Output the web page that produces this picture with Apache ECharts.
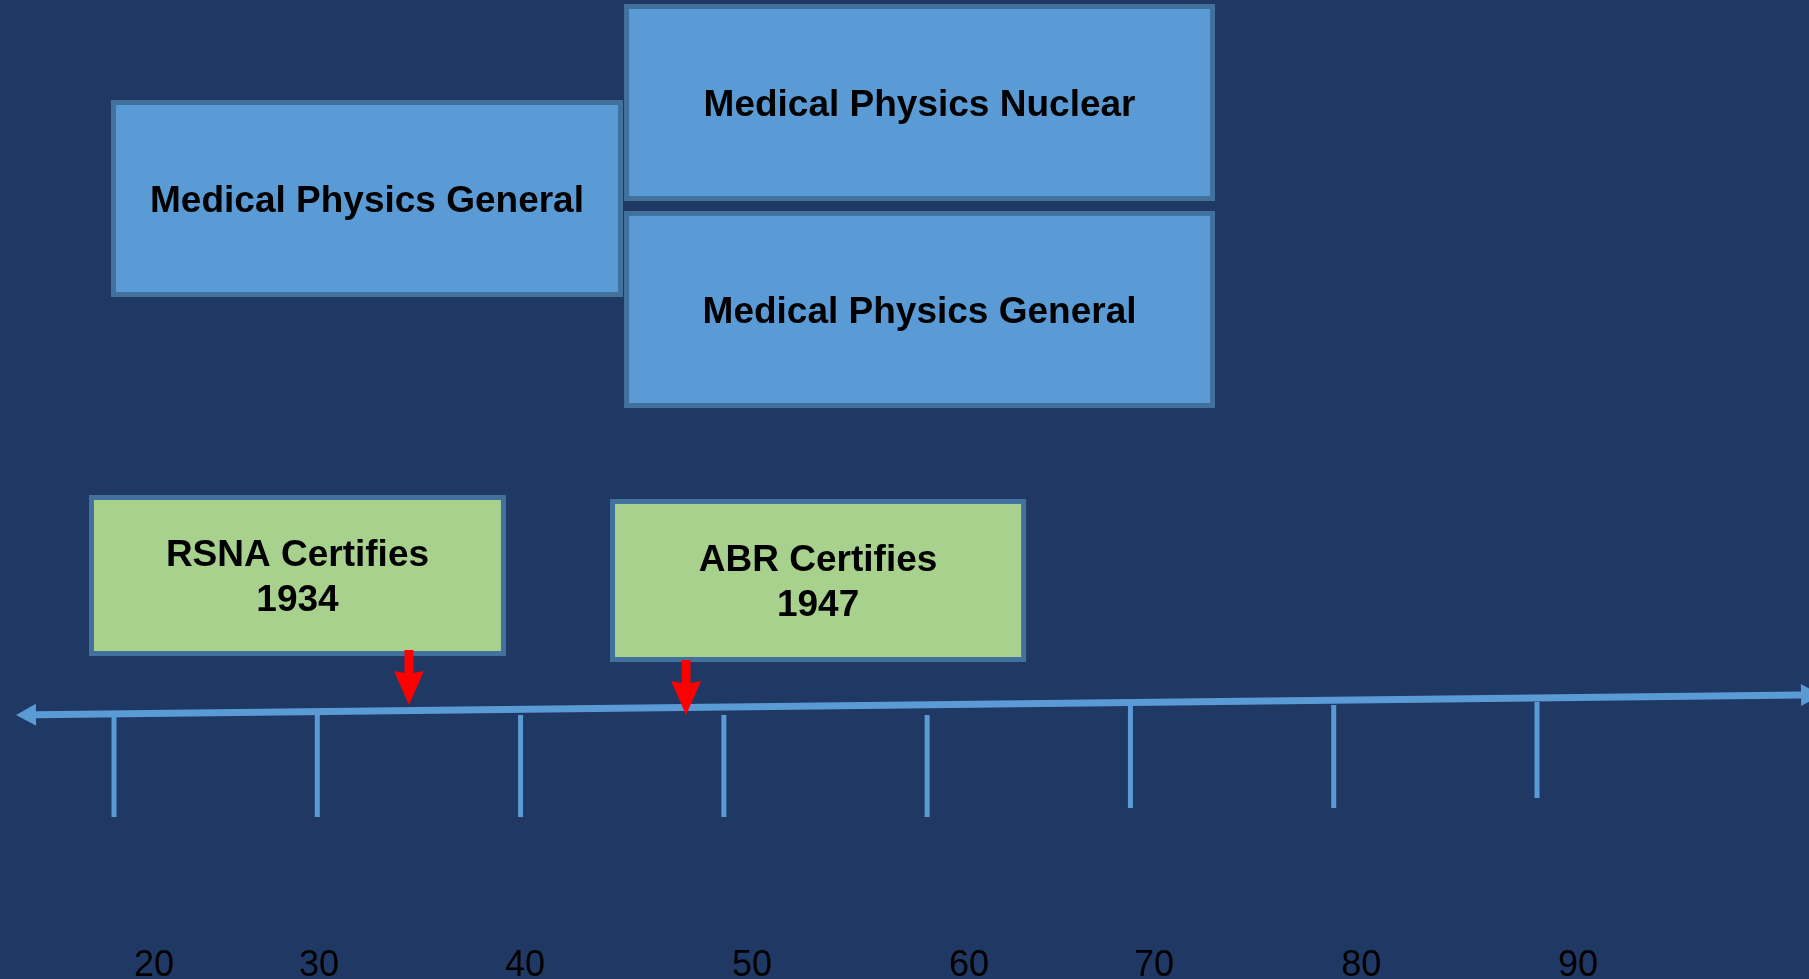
<!DOCTYPE html>
<html><head><meta charset="utf-8">
<script src="https://cdn.jsdelivr.net/npm/echarts@6/dist/echarts.min.js"></script>
<style>html,body{margin:0;padding:0;background:#1F3864;}#c{width:1809px;height:979px;}</style>
</head><body><div id="c"></div>
<script>
// ---- data (years on the timeline axis) ----
const tickYears = [1920, 1930, 1940, 1950, 1960, 1970, 1980, 1990];
const tickLabels = ['20', '30', '40', '50', '60', '70', '80', '90'];
const tickLabelYears = [1921.97, 1930.09, 1940.22, 1951.39, 1962.06, 1971.16, 1981.35, 1992.02];
const specialtyNames = ['Medical Physics General', 'Medical Physics Nuclear', 'Medical Physics General'];
const specialtyFrom = [1919.85, 1945.09, 1945.09];
const specialtyTo = [1945.04, 1974.16, 1974.16];
const eventNames = ['RSNA Certifies\n1934', 'ABR Certifies\n1947'];
const eventBoxFrom = [1918.77, 1944.40];
const eventBoxTo = [1939.28, 1964.87];
const eventArrowYear = [1934.51, 1948.14];
const timelineYears = [1915.18, 2003.38];

// ---- layout (vertical placement, in axis units of a hidden 0..979 row axis) ----
const specialtyRows = [[100, 297], [4, 201], [211, 408]];
const eventRows = [[495, 656], [499, 662]];
const arrowRows = [[650, 673, 705], [660, 683, 715]];
const timelineRows = [715, 695];
const tickTops = [714, 713, 715, 715, 715, 705, 705, 702];
const tickBottoms = [817, 817, 817, 817, 817, 808, 808, 798];
const labelRow = 966;

const BG = '#1F3864', BLUE = '#5B9BD5', BORDER = '#41719C', GREEN = '#A9D18E';
const chart = echarts.init(document.getElementById('c'));

function boxRender(names, fill) {
  return function (params, api) {
    const p0 = api.coord([api.value(0), api.value(2)]);
    const p1 = api.coord([api.value(1), api.value(3)]);
    const lw = 5;
    return {
      type: 'group', children: [
        { type: 'rect', shape: { x: p0[0] + lw / 2, y: p0[1] + lw / 2, width: p1[0] - p0[0] - lw, height: p1[1] - p0[1] - lw },
          style: { fill: fill, stroke: BORDER, lineWidth: lw } },
        { type: 'text', style: { text: names[params.dataIndex], x: (p0[0] + p1[0]) / 2, y: (p0[1] + p1[1]) / 2 + 3,
          align: 'center', verticalAlign: 'middle', font: 'bold 37px "Liberation Sans", Arial, sans-serif', fill: '#000', lineHeight: 45 } }
      ]
    };
  };
}

const option = {
  backgroundColor: BG,
  animation: false,
  grid: { left: 0, right: 0, top: 0, bottom: 0 },
  xAxis: { type: 'value', min: 1914.392, max: 2003.38, show: false },
  yAxis: { type: 'value', min: 0, max: 979, inverse: true, show: false },
  series: [
    { type: 'custom', renderItem: boxRender(specialtyNames, BLUE),
      data: specialtyNames.map((n, i) => [specialtyFrom[i], specialtyTo[i], specialtyRows[i][0], specialtyRows[i][1]]) },
    { type: 'custom', renderItem: boxRender(eventNames, GREEN),
      data: eventNames.map((n, i) => [eventBoxFrom[i], eventBoxTo[i], eventRows[i][0], eventRows[i][1]]) },
    { type: 'custom', z: 3,
      renderItem: function (params, api) {
        const a = api.coord([api.value(0), api.value(1)]);
        const b = api.coord([api.value(0), api.value(2)]);
        return { type: 'line', shape: { x1: a[0], y1: a[1], x2: b[0], y2: b[1] }, style: { stroke: BLUE, lineWidth: 5 } };
      },
      data: tickYears.map((y, i) => [y, tickTops[i], tickBottoms[i]]) },
    { type: 'custom', z: 4,
      renderItem: function (params, api) {
        const s = api.coord([timelineYears[0], timelineRows[0]]);
        const e = api.coord([timelineYears[1], timelineRows[1]]);
        const dx = e[0] - s[0], dy = e[1] - s[1], L = Math.hypot(dx, dy);
        const ux = dx / L, uy = dy / L, nx = -uy, ny = ux;
        const head = 20, hw = 11;
        const ls = [s[0] + ux * head, s[1] + uy * head];
        const re = [e[0] + ux * 12, e[1] + uy * 12];
        const rb = [re[0] - ux * head, re[1] - uy * head];
        return { type: 'group', children: [
          { type: 'line', shape: { x1: ls[0], y1: ls[1], x2: rb[0], y2: rb[1] }, style: { stroke: BLUE, lineWidth: 7 } },
          { type: 'polygon', shape: { points: [s, [ls[0] + nx * hw, ls[1] + ny * hw], [ls[0] - nx * hw, ls[1] - ny * hw]] }, style: { fill: BLUE } },
          { type: 'polygon', shape: { points: [re, [rb[0] + nx * hw, rb[1] + ny * hw], [rb[0] - nx * hw, rb[1] - ny * hw]] }, style: { fill: BLUE } }
        ] };
      },
      data: [[timelineYears[0], timelineRows[0]]] },
    { type: 'custom', z: 5,
      renderItem: function (params, api) {
        const t = api.coord([api.value(0), api.value(1)]);
        const h = api.coord([api.value(0), api.value(2)]);
        const tip = api.coord([api.value(0), api.value(3)]);
        const x = t[0], sw = 4.5, hw = 15;
        return { type: 'polygon', shape: { points: [
          [x - sw, t[1]], [x + sw, t[1]], [x + sw, h[1]], [x + hw, h[1] - 2], [x, tip[1]], [x - hw, h[1] - 2], [x - sw, h[1]]
        ] }, style: { fill: '#FF0000' } };
      },
      data: eventArrowYear.map((y, i) => [y, arrowRows[i][0], arrowRows[i][1], arrowRows[i][2]]) },
    { type: 'custom', z: 5,
      renderItem: function (params, api) {
        const p = api.coord([api.value(0), labelRow]);
        return { type: 'text', style: { text: tickLabels[params.dataIndex], x: p[0], y: p[1], align: 'center', verticalAlign: 'middle',
          font: '36px "Liberation Sans", Arial, sans-serif', fill: '#000' } };
      },
      data: tickLabelYears.map(y => [y]) }
  ]
};
chart.setOption(option);
</script></body></html>
